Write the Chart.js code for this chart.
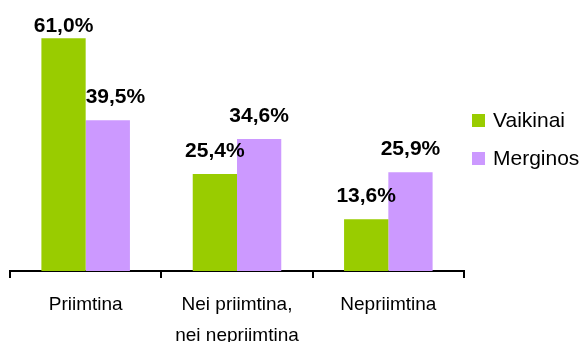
<!DOCTYPE html>
<html>
<head>
<meta charset="utf-8">
<script src="https://cdn.jsdelivr.net/npm/chart.js@4.4.1/dist/chart.umd.min.js"></script>
<style>
  html, body { margin: 0; padding: 0; background: #fff; }
  #chart { display: block; }
</style>
</head>
<body>
<canvas id="chart" width="581" height="342"></canvas>
<script>
// Answers by group
const categories = ['Priimtina', ['Nei priimtina,', 'nei nepriimtina'], 'Nepriimtina'];
const seriesNames = ['Vaikinai', 'Merginos'];
const boys = [61.0, 25.4, 13.6];
const girls = [39.5, 34.6, 25.9];
const seriesColors = ['#99CC00', '#CC99FF'];

const FONT = 'Arial, "Liberation Sans", sans-serif';

function formatPct(v) {
  return v.toFixed(1).replace('.', ',') + '%';
}

// value labels above the bars
const barLabels = {
  id: 'barLabels',
  afterDatasetsDraw(chart) {
    const ctx = chart.ctx;
    ctx.save();
    ctx.font = 'bold 21px ' + FONT;
    ctx.fillStyle = '#000';
    ctx.textAlign = 'center';
    ctx.textBaseline = 'alphabetic';
    const first = chart.getDatasetMeta(0).data;
    chart.data.datasets.forEach((ds, di) => {
      chart.getDatasetMeta(di).data.forEach((bar, i) => {
        const text = formatPct(ds.data[i]);
        const w = ctx.measureText(text).width;
        const y = Math.max(bar.y - 17, 32);
        let x = bar.x;
        // keep the label clear of a taller bar on its left
        if (di === 1) {
          const prev = first[i];
          const prevRight = prev.x + prev.width / 2;
          if (prev.y < y && x - w / 2 < prevRight) x = prevRight + w / 2;
        }
        ctx.fillText(text, x, y);
      });
    });
    ctx.restore();
  }
};

// legend on the right
const sideLegend = {
  id: 'sideLegend',
  afterDraw(chart) {
    const ctx = chart.ctx;
    ctx.save();
    ctx.font = '21px ' + FONT;
    ctx.textBaseline = 'middle';
    ctx.textAlign = 'left';
    chart.data.datasets.forEach((ds, i) => {
      const cy = 120 + i * 38;
      ctx.fillStyle = ds.backgroundColor;
      ctx.fillRect(472, cy - 6, 13, 13);
      ctx.fillStyle = '#000';
      ctx.fillText(ds.label, 493, cy + 1);
    });
    ctx.restore();
  }
};

new Chart(document.getElementById('chart'), {
  type: 'bar',
  data: {
    labels: categories,
    datasets: [
      { label: seriesNames[0], data: boys, backgroundColor: seriesColors[0] },
      { label: seriesNames[1], data: girls, backgroundColor: seriesColors[1] }
    ]
  },
  options: {
    responsive: false,
    animation: false,
    layout: { padding: { left: 10, right: 117, top: 4, bottom: 0 } },
    datasets: {
      bar: { categoryPercentage: 0.585, barPercentage: 1.0, borderWidth: 0 }
    },
    plugins: {
      legend: { display: false },
      tooltip: { enabled: false }
    },
    scales: {
      x: {
        offset: true,
        grid: {
          offset: true,
          drawOnChartArea: false,
          drawTicks: true,
          tickLength: 7,
          lineWidth: 2,
          color: '#000'
        },
        border: { display: true, color: '#000', width: 2 },
        ticks: {
          color: '#000',
          padding: 11,
          maxRotation: 0,
          autoSkip: false,
          font: { family: FONT, size: 19, lineHeight: '31px' }
        },
        afterFit(scale) { scale.height = 71; }
      },
      y: {
        display: false,
        min: 0,
        max: 70
      }
    }
  },
  plugins: [barLabels, sideLegend]
});
</script>
</body>
</html>
